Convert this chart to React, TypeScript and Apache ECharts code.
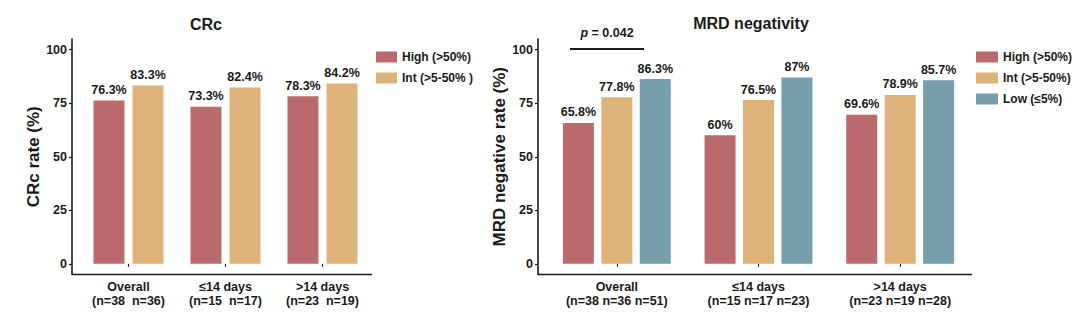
import React, { useEffect, useRef } from "react";
import * as echarts from "echarts";

const groups = ["Overall", "≤14 days", ">14 days"];
const nCrc = ["(n=38  n=36)", "(n=15  n=17)", "(n=23  n=19)"];
const nMrd = ["(n=38 n=36 n=51)", "(n=15 n=17 n=23)", "(n=23 n=19 n=28)"];

const crcHigh = [76.3, 73.3, 78.3];
const crcInt = [83.3, 82.4, 84.2];

const mrdHigh = [65.8, 60, 69.6];
const mrdInt = [77.8, 76.5, 78.9];
const mrdLow = [86.3, 87, 85.7];

const yTicks = [0, 25, 50, 75, 100];

const nameHigh = "High (>50%)";
const nameIntL = "Int (>5-50% )";
const nameIntR = "Int (>5-50%)";
const nameLow = "Low (≤5%)";

const RED = "#BB6A6E";
const TAN = "#DDB37B";
const BLUE = "#779EAB";
const FONT = "Liberation Sans, Arial, sans-serif";
const INK = "#1a1a1a";

export default function App() {
  const ref = useRef<HTMLDivElement>(null);
  useEffect(() => {
    document.body.style.margin = "0";
    const chart = echarts.init(ref.current!, null, { renderer: "svg" });
    const labelCfg = {
      show: true,
      position: "top" as const,
      distance: 4,
      formatter: (p: any) => `${p.value}%`,
      fontFamily: FONT,
      fontWeight: "bold" as const,
      fontSize: 12.5,
      color: INK,
    };
    const yAxisBase = (name: string, gridIndex: number) => ({
      type: "value" as const,
      gridIndex,
      min: -5,
      max: 105,
      offset: 8,
      name,
      nameLocation: "middle" as const,
      nameRotate: 90,
      nameGap: 29,
      nameTextStyle: { fontFamily: FONT, fontWeight: "bold" as const, fontSize: 17, color: INK },
      splitLine: { show: false },
      axisLine: { show: true, lineStyle: { color: INK, width: 1.6 } },
      axisTick: { show: true, length: 3, customValues: yTicks, lineStyle: { color: INK, width: 1.2 } },
      axisLabel: {
        customValues: yTicks,
        fontFamily: FONT,
        fontWeight: "bold" as const,
        fontSize: 12.5,
        color: INK,
        margin: 5,
      },
    });
    const xAxisBase = (labels: string[], gridIndex: number) => ({
      type: "category" as const,
      gridIndex,
      data: groups.map((g, i) => `${g}\n${labels[i]}`),
      axisLine: { show: false },
      axisTick: { show: true, alignWithLabel: true, length: 3, lineStyle: { color: INK, width: 1.2 } },
      axisLabel: {
        fontFamily: FONT,
        fontWeight: "bold" as const,
        fontSize: 12.5,
        lineHeight: 13.5,
        color: INK,
        margin: 6,
      },
    });
    chart.setOption({
      animation: false,
      backgroundColor: "#ffffff",
      title: [
        {
          text: "CRc",
          left: 201,
          top: 11,
          textAlign: "center",
          textStyle: { fontFamily: FONT, fontWeight: "bold", fontSize: 16, color: INK },
        },
        {
          text: "MRD negativity",
          left: 746,
          top: 10,
          textAlign: "center",
          textStyle: { fontFamily: FONT, fontWeight: "bold", fontSize: 16, color: INK },
        },
      ],
      legend: [
        {
          data: [nameHigh, nameIntL],
          orient: "vertical",
          left: 371,
          top: 46,
          itemWidth: 21,
          itemHeight: 11,
          itemGap: 9,
          icon: "rect",
          textStyle: { fontFamily: FONT, fontWeight: "bold", fontSize: 12, color: INK },
          selectedMode: false,
        },
        {
          data: [nameHigh, nameIntR, nameLow],
          orient: "vertical",
          left: 971,
          top: 46,
          itemWidth: 22,
          itemHeight: 11,
          itemGap: 9,
          icon: "rect",
          textStyle: { fontFamily: FONT, fontWeight: "bold", fontSize: 12, color: INK },
          selectedMode: false,
        },
      ],
      grid: [
        { left: 80, top: 39, width: 291, height: 235.5 },
        { left: 546, top: 39, width: 425, height: 235.5 },
      ],
      xAxis: [xAxisBase(nCrc, 0), xAxisBase(nMrd, 1)],
      yAxis: [yAxisBase("CRc rate (%)", 0), yAxisBase("MRD negative rate (%)", 1)],
      series: [
        { type: "bar", name: nameHigh, xAxisIndex: 0, yAxisIndex: 0, data: crcHigh, barWidth: 31, barGap: "26%", itemStyle: { color: RED }, label: labelCfg },
        { type: "bar", name: nameIntL, xAxisIndex: 0, yAxisIndex: 0, data: crcInt, barWidth: 31, barGap: "26%", itemStyle: { color: TAN }, label: labelCfg },
        { type: "bar", name: nameHigh, xAxisIndex: 1, yAxisIndex: 1, data: mrdHigh, barWidth: 31, barGap: "24%", itemStyle: { color: RED }, label: labelCfg },
        { type: "bar", name: nameIntR, xAxisIndex: 1, yAxisIndex: 1, data: mrdInt, barWidth: 31, barGap: "24%", itemStyle: { color: TAN }, label: labelCfg },
        { type: "bar", name: nameLow, xAxisIndex: 1, yAxisIndex: 1, data: mrdLow, barWidth: 31, barGap: "24%", itemStyle: { color: BLUE }, label: labelCfg },
      ],
      graphic: [
        { type: "line", shape: { x1: 72, y1: 274.5, x2: 372, y2: 274.5 }, style: { stroke: INK, lineWidth: 1.6 } },
        { type: "line", shape: { x1: 538, y1: 274.5, x2: 972, y2: 274.5 }, style: { stroke: INK, lineWidth: 1.6 } },
        { type: "line", shape: { x1: 570, y1: 49, x2: 644, y2: 49 }, style: { stroke: INK, lineWidth: 1.8 } },
        {
          type: "text",
          x: 607,
          y: 33,
          style: {
            text: "{i|p} = 0.042",
            align: "center",
            verticalAlign: "middle",
            fontFamily: FONT,
            fontWeight: "bold",
            fontSize: 12.5,
            fill: INK,
            rich: {
              i: { fontFamily: FONT, fontWeight: "bold", fontStyle: "italic", fontSize: 12.5, fill: INK },
            },
          },
        },
      ],
    });
    return () => chart.dispose();
  }, []);
  return <div ref={ref} style={{ width: 1080, height: 327 }} />;
}
